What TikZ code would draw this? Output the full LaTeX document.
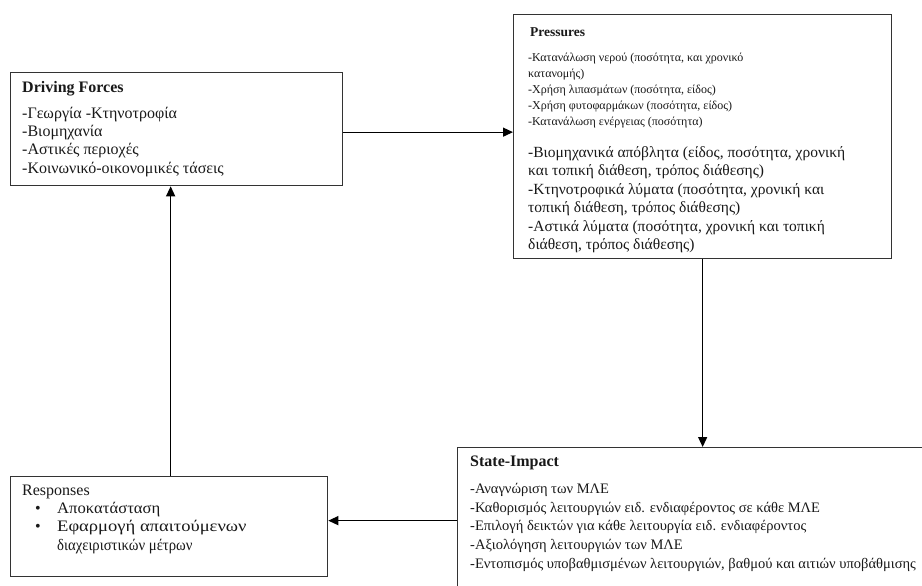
\documentclass[tikz,border=0pt]{standalone}
\usepackage{fontspec}
\setmainfont{Liberation Serif}
\usetikzlibrary{arrows.meta}
\newcommand{\hstr}[2]{\scalebox{#1}[1]{#2}}
\tikzset{
  box/.style={draw=black!80, line width=1.3pt, rectangle, inner sep=0pt, anchor=north west},
  txt/.style={anchor=west, inner sep=0pt, text=black!90},
  fdf/.style={font=\fontsize{16}{18}\selectfont},
  fpa/.style={font=\fontsize{12}{14}\selectfont},
  fpb/.style={font=\fontsize{15.5}{18}\selectfont},
  fsi/.style={font=\fontsize{14.5}{18}\selectfont},
  frs/.style={font=\fontsize{16}{18}\selectfont},
  arr/.style={draw=black, line width=1.3pt, -{Triangle[length=10pt,width=9pt]}}
}
\begin{document}
\begin{tikzpicture}[x=1pt,y=-1pt]
\useasboundingbox (0,0) rectangle (922,586);
\clip (0,0) rectangle (922,586);
\fill[white] (0,0) rectangle (922,586);
% boxes
\node[box, minimum width=332pt, minimum height=113pt] (df) at (10,72) {};
\node[box, minimum width=378pt, minimum height=244pt] (pr) at (513,14) {};
\node[box, minimum width=480pt, minimum height=160pt] (si) at (457,447) {};
\node[box, minimum width=317pt, minimum height=100pt] (rs) at (10,476) {};
% Driving Forces text
\node[txt, fdf] (df0) at (22,89) {\textbf{Driving Forces}};
\node[txt, fdf] (df1) at (22,115) {-Γεωργία -Κτηνοτροφία};
\node[txt, fdf] (df2) at (22,133) {-Βιομηχανία};
\node[txt, fdf] (df3) at (22,151) {-Αστικές περιοχές};
\node[txt, fdf] (df4) at (22,170) {-Κοινωνικό-οικονομικές τάσεις};
% Pressures text
\node[txt, font=\fontsize{13.5}{16}\selectfont] (pr0) at (530,32) {\textbf{Pressures}};
\node[txt, fpa] (pr1) at (528,59) {-Κατανάλωση νερού (ποσότητα, και χρονικό};
\node[txt, fpa] (pr2) at (528,75) {κατανομής)};
\node[txt, fpa] (pr3) at (528,91) {-Χρήση λιπασμάτων (ποσότητα, είδος)};
\node[txt, fpa] (pr4) at (528,107) {-Χρήση φυτοφαρμάκων (ποσότητα, είδος)};
\node[txt, fpa] (pr5) at (528,123) {-Κατανάλωση ενέργειας (ποσότητα)};
\node[txt, fpb] (pr6) at (528,154) {-Βιομηχανικά απόβλητα (είδος, ποσότητα, χρονική};
\node[txt, fpb] (pr7) at (528,172) {και τοπική διάθεση, τρόπος διάθεσης)};
\node[txt, fpb] (pr8) at (528,191) {-Κτηνοτροφικά λύματα (ποσότητα, χρονική και};
\node[txt, fpb] (pr9) at (528,209) {τοπική διάθεση, τρόπος διάθεσης)};
\node[txt, fpb] (pr10) at (528,228) {-Αστικά λύματα (ποσότητα, χρονική και τοπική};
\node[txt, fpb] (pr11) at (528,246) {διάθεση, τρόπος διάθεσης)};
% State-Impact text
\node[txt, font=\fontsize{16}{18}\selectfont] (si0) at (470,463) {\textbf{State-Impact}};
\node[txt, fsi] (si1) at (470,490) {-Αναγνώριση των ΜΛΕ};
\node[txt, fsi] (si2) at (470,509) {-Καθορισμός λειτουργιών ειδ. ενδιαφέροντος σε κάθε ΜΛΕ};
\node[txt, fsi] (si3) at (470,527) {-Επιλογή δεικτών για κάθε λειτουργία ειδ. ενδιαφέροντος};
\node[txt, fsi] (si4) at (470,546) {-Αξιολόγηση λειτουργιών των ΜΛΕ};
\node[txt, fsi] (si5) at (470,565) {-Εντοπισμός υποβαθμισμένων λειτουργιών, βαθμού και αιτιών υποβάθμισης};
% Responses text
\node[txt, frs] (rs0) at (22,492) {Responses};
\node[txt, frs] (rsb1) at (35,510) {•};
\node[txt, frs] (rs1) at (57,510) {\hstr{1.04}{Αποκατάσταση}};
\node[txt, frs] (rsb2) at (35,528) {•};
\node[txt, frs] (rs2) at (57,528) {\hstr{1.16}{Εφαρμογή απαιτούμενων}};
\node[txt, frs] (rs3) at (57,547) {\hstr{0.92}{διαχειριστικών μέτρων}};
% connectors
\draw[arr] ([yshift=-3pt]df.east) -- ([yshift=-3pt]df.east -| pr.west);
\draw[arr] (pr.south) -- (pr.south |- si.north);
\draw[arr] ([yshift=6pt]rs.east -| si.west) -- ([yshift=6pt]rs.east);
\draw[arr] ([xshift=1.5pt]rs.north) -- ([xshift=1.5pt]rs.north |- df.south);
\end{tikzpicture}
\end{document}
